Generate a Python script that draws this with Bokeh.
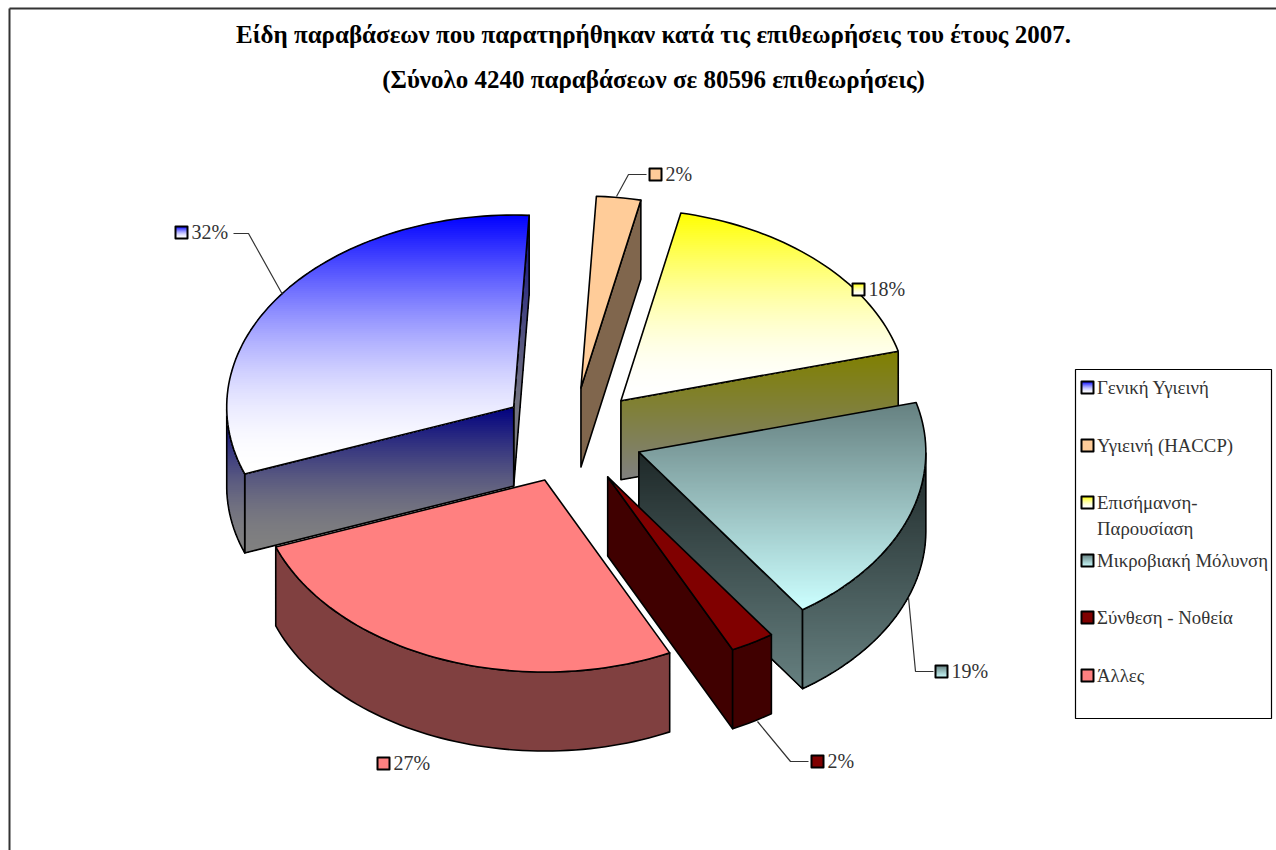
import math
from bokeh.plotting import figure
from bokeh.models import Range1d, ColumnDataSource
from bokeh.core.properties import value
from bokeh.embed import file_html
from bokeh.resources import INLINE

# ---- data ----
categories = ["Γενική Υγιεινή", "Υγιεινή (HACCP)", "Επισήμανση-\nΠαρουσίαση",
              "Μικροβιακή Μόλυνση", "Σύνθεση - Νοθεία", "Άλλες"]
shares = [31.52, 2.49, 17.5, 19.49, 2.49, 26.5]
share_labels = ["32%", "2%", "18%", "19%", "2%", "27%"]
title_lines = ["Είδη παραβάσεων που παρατηρήθηκαν κατά τις επιθεωρήσεις του έτους 2007.",
               "(Σύνολο 4240 παραβάσεων σε 80596 επιθεωρήσεις)"]

# ---- styles: (top colour, bottom colour, eased?) of each slice's faces ----
top_colors = [((0, 0, 255), (255, 255, 255), True),
              ((255, 204, 153), (255, 204, 153), False),
              ((255, 255, 0), (255, 255, 255), True),
              ((102, 128, 128), (204, 255, 255), False),
              ((128, 0, 0), (128, 0, 0), False),
              ((255, 128, 128), (255, 128, 128), False)]
side_colors = [((0, 0, 128), (128, 128, 128), True),
               ((128, 102, 77), (128, 102, 77), False),
               ((128, 128, 0), (128, 128, 128), False),
               ((30, 40, 40), (102, 128, 128), False),
               ((64, 0, 0), (64, 0, 0), False),
               ((128, 64, 64), (128, 64, 64), False)]

# ---- layout (page pixels) ----
CX, CY, RX, RY = 571.0, 435.0, 287.0, 192.0
EXPLODE = 0.25
DEPTH = 79.0
START = 249.6
draw_order = [2, 1, 0, 3, 4, 5]
swatch_xy = [(181, 232), (655, 174), (858, 289), (941, 671), (817, 761), (383, 763)]
leaders = [[(233, 233), (248, 233), (282, 294)],
           [(646, 174), (628, 174), (616, 196)],
           None,
           [(933, 671), (915, 671), (908, 597)],
           [(808, 761), (790, 761), (757, 721)],
           None]
legend_box = (1075, 369, 1271, 718)
legend_y = [388, 446, 503, 561, 618, 676]

p = figure(width=1276, height=850, output_backend="svg", toolbar_location=None,
           x_range=Range1d(0, 1276), y_range=Range1d(850, 0),
           x_axis_type=None, y_axis_type=None, min_border=0,
           outline_line_color=None, background_fill_color="white")
p.grid.visible = False


def clip_below(poly, y0):
    out = []
    n = len(poly)
    for i in range(n):
        a, b = poly[i], poly[(i + 1) % n]
        ina, inb = a[1] >= y0, b[1] >= y0
        if ina:
            out.append(a)
        if ina != inb:
            t = (y0 - a[1]) / (b[1] - a[1])
            out.append((a[0] + t * (b[0] - a[0]), y0))
    return out


def hexc(c):
    return "#%02x%02x%02x" % tuple(int(round(v)) for v in c)


def face(poly, colors, step=2.0, lw=1.6):
    c0, c1, eased = colors
    ys = [q[1] for q in poly]
    y0, y1 = min(ys), max(ys)
    fx, fy, fc = [], [], []
    if c0 == c1:
        fx.append([q[0] for q in poly])
        fy.append([q[1] for q in poly])
        fc.append(hexc(c0))
    else:
        y = y0
        while y < y1:
            t = min((y + step / 2 - y0) / (y1 - y0), 1.0)
            if eased:
                t = math.sin(t * math.pi / 2)
            cl = clip_below(poly, y)
            if len(cl) >= 3:
                fx.append([q[0] for q in cl])
                fy.append([q[1] for q in cl])
                fc.append(hexc([a + (b - a) * t for a, b in zip(c0, c1)]))
            y += step
    p.patches(fx, fy, fill_color=fc, line_color=None)
    p.patches("xs", "ys",
              source=ColumnDataSource(dict(xs=[[q[0] for q in poly] + [poly[0][0]]],
                                           ys=[[q[1] for q in poly] + [poly[0][1]]])),
              fill_color=None, line_color="black", line_width=lw, line_join="round")


total = sum(shares)
bounds = [START]
for s in shares:
    bounds.append(bounds[-1] + 360.0 * s / total)


def pt(ax, ay, deg):
    a = math.radians(deg)
    return (ax + RX * math.sin(a), ay - RY * math.cos(a))


def down(q):
    return (q[0], q[1] + DEPTH)


for i in draw_order:
    t0, t1 = bounds[i], bounds[i + 1]
    mid = math.radians((t0 + t1) / 2)
    ax = CX + EXPLODE * RX * math.sin(mid)
    ay = CY - EXPLODE * RY * math.cos(mid)
    n = max(4, int((t1 - t0) / 1.5))
    degs = [t0 + (t1 - t0) * k / n for k in range(n + 1)]
    arc = [pt(ax, ay, d) for d in degs]
    # radial walls facing the viewer
    if math.sin(math.radians(t1)) > 0:
        face([(ax, ay), arc[-1], down(arc[-1]), (ax, ay + DEPTH)], side_colors[i])
    if math.sin(math.radians(t0)) < 0:
        face([(ax, ay), arc[0], down(arc[0]), (ax, ay + DEPTH)], side_colors[i])
    # visible outer rim (front half of the ellipse)
    vis = [d for d in degs if math.cos(math.radians(d)) <= 0]
    if len(vis) >= 2:
        rim_top = [pt(ax, ay, d) for d in vis]
        face(rim_top + [down(q) for q in reversed(rim_top)], side_colors[i])
    # upper face
    face([(ax, ay)] + arc, top_colors[i])

# leader lines
for pts in leaders:
    if pts:
        p.line([q[0] for q in pts], [q[1] for q in pts], line_color="#333333", line_width=1.2)

# chart border (left and top only are in view)
p.line([9, 9], [850, 8], line_color="#333333", line_width=2)
p.line([9, 1276], [8, 8], line_color="#333333", line_width=2)

# data label swatches and texts
for i, (sx, sy) in enumerate(swatch_xy):
    h = 6
    face([(sx - h, sy - h), (sx + h, sy - h), (sx + h, sy + h), (sx - h, sy + h)], top_colors[i], step=1.0, lw=2)

serif = value("Liberation Serif")
p.text(x=[sx + 10 for sx, _ in swatch_xy], y=[sy - 1 for _, sy in swatch_xy], text=share_labels,
       text_font=serif, text_font_size="20px", text_color="#333333",
       text_align="left", text_baseline="middle")

# title
p.text(x=[653, 653], y=[34, 78.5], text=title_lines, text_font=serif, text_font_size="25px",
       text_font_style="bold", text_color="black", text_align="center", text_baseline="middle")

# legend
lx0, ly0, lx1, ly1 = legend_box
p.patches([[lx0, lx1, lx1, lx0, lx0]], [[ly0, ly0, ly1, ly1, ly0]], fill_color="white",
          line_color="black", line_width=1.2)
for i, ly in enumerate(legend_y):
    sx = lx0 + 12
    h = 6
    sy = ly - 1
    face([(sx - h, sy - h), (sx + h, sy - h), (sx + h, sy + h), (sx - h, sy + h)], top_colors[i], step=1.0, lw=2)
    for k, txt in enumerate(categories[i].split("\n")):
        p.text(x=[lx0 + 21.5], y=[ly - 1 + k * 26], text=[txt], text_font=serif, text_font_size="18.8px",
               text_color="#333333", text_align="left", text_baseline="middle")

open("out.html", "w").write(file_html(p, INLINE))
